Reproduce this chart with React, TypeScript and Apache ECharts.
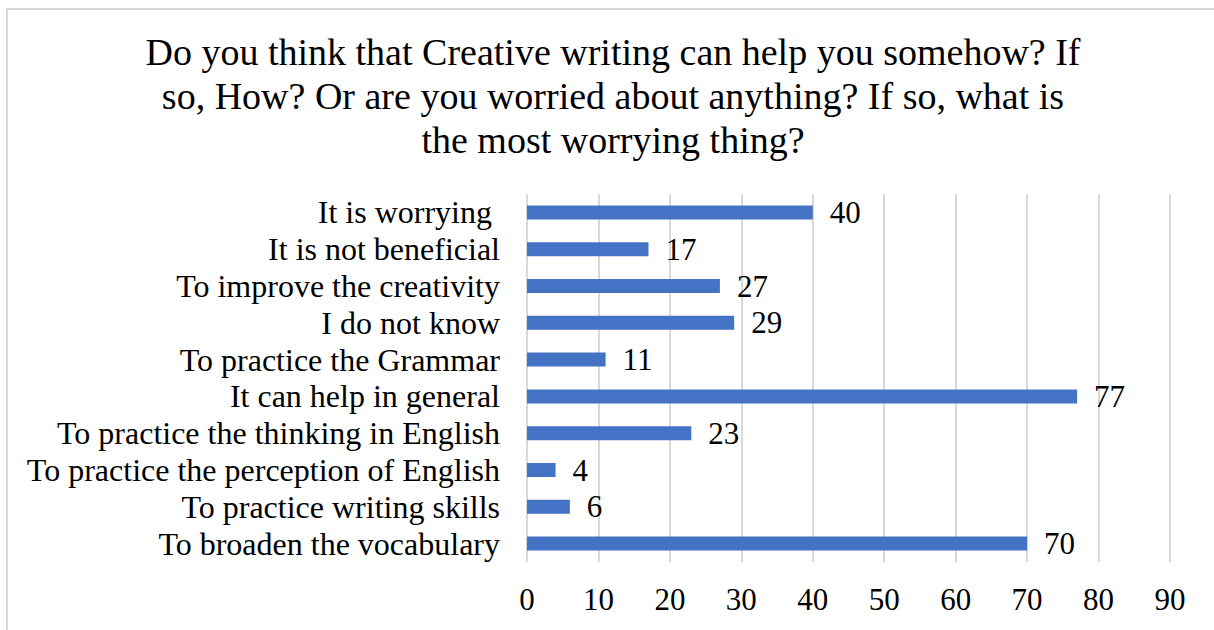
import React, { useEffect, useRef } from "react";
import * as echarts from "echarts";

const titleText =
  "Do you think that Creative writing can help you somehow? If\nso, How? Or are you worried about anything? If so, what is\nthe most worrying thing?";

const categories = [
  "It is worrying ",
  "It is not beneficial",
  "To improve the creativity",
  "I do not know",
  "To practice the Grammar",
  "It can help in general",
  "To practice the thinking in English",
  "To practice the perception of English",
  "To practice writing skills",
  "To broaden the vocabulary",
];

const values = [40, 17, 27, 29, 11, 77, 23, 4, 6, 70];

const xMin = 0;
const xMax = 90;
const xInterval = 10;

const FONT = "'Liberation Serif', 'Times New Roman', serif";

export default function App() {
  const ref = useRef<HTMLDivElement>(null);

  useEffect(() => {
    if (!ref.current) return;
    const chart = echarts.init(ref.current, null, { renderer: "svg" });
    chart.setOption({
      animation: false,
      backgroundColor: "#ffffff",
      graphic: [
        {
          type: "rect",
          shape: { x: 7, y: 9, width: 1300, height: 700 },
          style: { fill: "none", stroke: "#d9d9d9", lineWidth: 2 },
          silent: true,
        },
      ],
      title: {
        text: titleText,
        left: 608,
        top: 25,
        textAlign: "center",
        textStyle: {
          fontFamily: FONT,
          fontSize: 38,
          fontWeight: "normal",
          color: "#000",
          lineHeight: 44,
        },
      },
      grid: {
        left: 527,
        right: 44,
        top: 194,
        bottom: 68,
        containLabel: false,
        outerBoundsMode: "none",
      },
      xAxis: {
        type: "value",
        min: xMin,
        max: xMax,
        interval: xInterval,
        axisLine: { show: false },
        axisTick: { show: false },
        splitLine: { show: true, lineStyle: { color: "#d9d9d9", width: 2 } },
        axisLabel: {
          fontFamily: FONT,
          fontSize: 31,
          color: "#000",
          margin: 22,
        },
      },
      yAxis: {
        type: "category",
        data: categories,
        inverse: true,
        axisLine: { show: false },
        axisTick: { show: false },
        axisLabel: {
          interval: 0,
          hideOverlap: false,
          fontFamily: FONT,
          fontSize: 32,
          color: "#000",
          margin: 27,
        },
      },
      series: [
        {
          type: "bar",
          data: values,
          barWidth: 14,
          itemStyle: { color: "#4472c4" },
          label: {
            show: true,
            position: "right",
            distance: 17,
            fontFamily: FONT,
            fontSize: 31,
            color: "#000",
          },
        },
      ],
    });
    return () => chart.dispose();
  }, []);

  return (
    <div
      ref={ref}
      style={{ position: "fixed", left: 0, top: 0, width: 1214, height: 630 }}
    />
  );
}
